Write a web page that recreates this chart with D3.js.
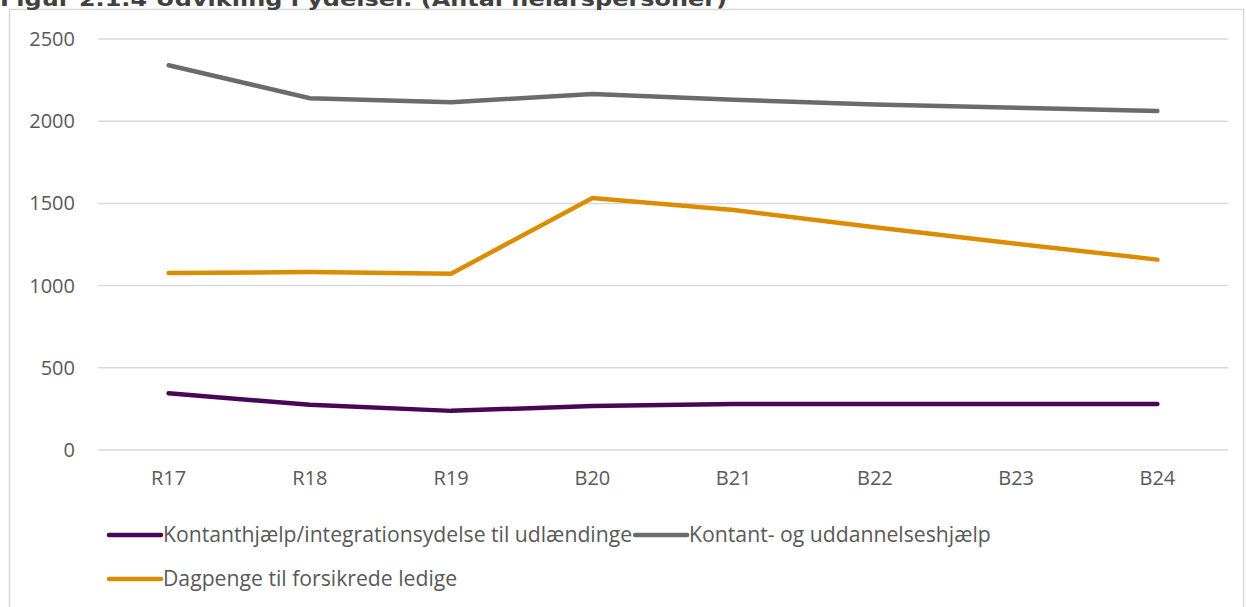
<!DOCTYPE html>
<html lang="da">
<head>
    <meta charset="UTF-8">
    <title>Figur 2.1.4</title>
    <style>
        body,
        html {
            margin: 0;
            padding: 0;
            background: #fff;
            overflow: hidden;
        }
        text {
            font-family: "Open Sans", sans-serif;
            fill: #595959;
        }
    </style>
    <script src="https://d3js.org/d3.v7.min.js"></script>
</head>
<body>
<div id="chart"></div>
<script>
    // data
    const categories = ['R17', 'R18', 'R19', 'B20', 'B21', 'B22', 'B23', 'B24'];
    const kontanthjaelpUdl = [345, 275, 238, 268, 280, 280, 280, 280];
    const kontantUddannelse = [2340, 2140, 2115, 2165, 2130, 2102, 2082, 2062];
    const dagpenge = [1077, 1082, 1072, 1533, 1460, 1355, 1255, 1158];
    const yTicks = [0, 500, 1000, 1500, 2000, 2500];
    const seriesNames = [
        'Kontanthjælp/integrationsydelse til udlændinge',
        'Kontant- og uddannelseshjælp',
        'Dagpenge til forsikrede ledige'
    ];

    (function () {
        let width = 1246,
            height = 607;

        let svg = d3.select('#chart').append('svg')
            .attr('width', width).attr('height', height);

        let series = [
            {name: seriesNames[0], values: kontanthjaelpUdl, color: '#4a0656'},
            {name: seriesNames[1], values: kontantUddannelse, color: '#6b6b6b'},
            {name: seriesNames[2], values: dagpenge, color: '#dc8c00'}
        ];

        // chart frame
        svg.append('rect')
            .attr('x', 9.5).attr('y', 9.5)
            .attr('width', 1234).attr('height', 620)
            .attr('fill', 'none')
            .attr('stroke', '#d9d9d9')
            .attr('stroke-width', 1.5);

        // title, partly cut at the top like the source
        svg.append('text')
            .attr('x', 0).attr('y', 6)
            .attr('textLength', 727)
            .attr('lengthAdjust', 'spacingAndGlyphs')
            .style('font-family', '"DejaVu Sans", sans-serif')
            .style('font-weight', 'bold')
            .style('font-size', '19px')
            .style('fill', '#404040')
            .text('Figur 2.1.4 Udvikling i ydelser. (Antal helårspersoner)');

        let x = d3.scaleBand().domain(categories).range([98, 1228]);
        let y = d3.scaleLinear().domain([0, 2500]).range([450, 39]);

        // gridlines
        svg.append('g')
            .selectAll('line')
            .data(yTicks)
            .enter()
            .append('line')
            .attr('x1', 98).attr('x2', 1228)
            .attr('y1', d => y(d)).attr('y2', d => y(d))
            .attr('stroke', '#d9d9d9')
            .attr('stroke-width', 1.5);

        let yAxis = svg.append('g')
            .attr('transform', 'translate(75,0)')
            .call(d3.axisLeft(y).tickValues(yTicks).tickFormat(d3.format('d')).tickSize(0).tickPadding(0));
        yAxis.select('.domain').remove();
        yAxis.selectAll('text')
            .style('font-size', '20px')
            .style('fill', '#595959')
            .style('font-family', '"Open Sans", sans-serif');

        let xAxis = svg.append('g')
            .attr('transform', 'translate(0,450)')
            .call(d3.axisBottom(x).tickSize(0).tickPadding(21));
        xAxis.select('.domain').remove();
        xAxis.selectAll('text')
            .style('font-size', '20px')
            .style('fill', '#595959')
            .style('font-family', '"Open Sans", sans-serif');

        let line = d3.line()
            .x((d, i) => x(categories[i]) + x.bandwidth() / 2)
            .y(d => y(d));

        svg.append('g')
            .selectAll('path')
            .data(series)
            .enter()
            .append('path')
            .attr('d', d => line(d.values))
            .attr('fill', 'none')
            .attr('stroke', d => d.color)
            .attr('stroke-width', 4.5)
            .attr('stroke-linecap', 'round')
            .attr('stroke-linejoin', 'miter');

        // legend
        let legend = svg.append('g');
        function legendItem(s, lx, ly) {
            legend.append('line')
                .attr('x1', lx).attr('x2', lx + 52)
                .attr('y1', ly).attr('y2', ly)
                .attr('stroke', s.color)
                .attr('stroke-width', 4.5)
                .attr('stroke-linecap', 'round');
            let t = legend.append('text')
                .attr('x', lx + 54).attr('y', ly)
                .attr('dy', '0.35em')
                .style('font-size', '21.2px')
                .text(s.name);
            return lx + 54 + t.node().getComputedTextLength();
        }
        let end = legendItem(series[0], 109, 535);
        legendItem(series[1], end + 3, 535);
        legendItem(series[2], 109, 579);
    }());
</script>
</body>
</html>
